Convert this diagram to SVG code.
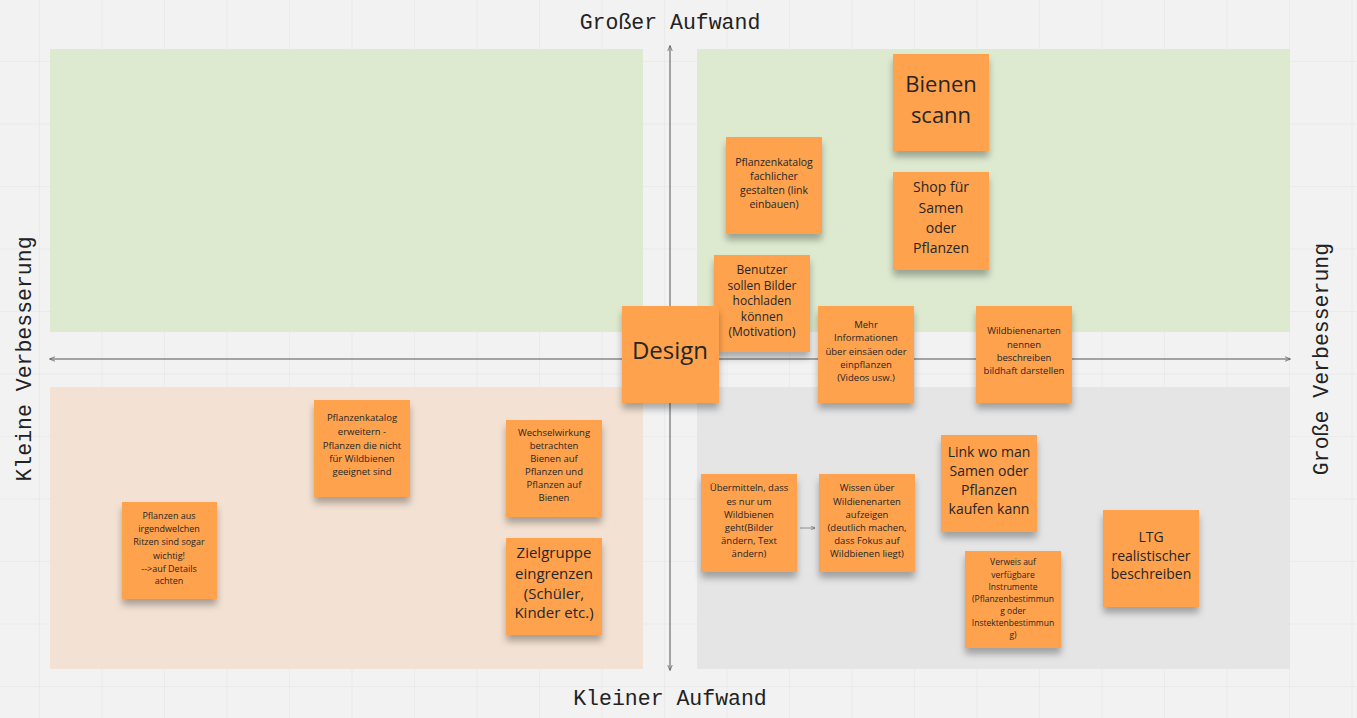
<svg xmlns="http://www.w3.org/2000/svg" width="1357" height="718" viewBox="0 0 1357 718">
<defs>
<pattern id="grid" x="39" y="61" width="62.5" height="62.5" patternUnits="userSpaceOnUse">
<path d="M0 0V62.5M0 0H62.5" fill="none" stroke="#e4e4e4" stroke-width="1.2"/>
</pattern>
<filter id="sh" x="-20%" y="-20%" width="140%" height="150%">
<feDropShadow dx="0" dy="6" stdDeviation="3.5" flood-color="#000" flood-opacity="0.3"/>
</filter>
<marker id="ah" viewBox="0 0 10 10" refX="9" refY="5" markerWidth="6" markerHeight="6" orient="auto-start-reverse">
<path d="M0 1L10 5L0 9" fill="none" stroke="#555" stroke-width="1.2"/>
</marker>
</defs>
<style>
.note{fill:#ffa24e;filter:url(#sh)}
.t{font-family:"Open Sans","Noto Sans",sans-serif;fill:#262626;text-anchor:middle}
.ax{font-family:"Liberation Mono","DejaVu Sans Mono",monospace;font-size:21.5px;fill:#222;text-anchor:middle}
.axis{stroke:#555;stroke-width:1}
</style>
<rect width="1357" height="718" fill="#f2f2f2"/>
<rect width="1357" height="718" fill="url(#grid)"/>
<g id="quadrants">
<rect x="50" y="49" width="593" height="283" fill="#deead0"/>
<rect x="697" y="49" width="593" height="283" fill="#deead0"/>
<rect x="50" y="387" width="593" height="282" fill="#f3e2d3"/>
<rect x="697" y="387" width="593" height="282" fill="#e5e5e5"/>
</g>
<g id="connectors">
<line class="axis" x1="670" y1="670" x2="670" y2="46" marker-start="url(#ah)" marker-end="url(#ah)"/>
<line class="axis" x1="50" y1="359" x2="1290" y2="359" marker-start="url(#ah)" marker-end="url(#ah)"/>
<line x1="800" y1="528" x2="815" y2="528" stroke="#777" stroke-width="0.8" marker-end="url(#ah)"/>
</g>
<g id="axis-labels">
<text class="ax" x="670" y="29">Großer Aufwand</text>
<text class="ax" x="670" y="705">Kleiner Aufwand</text>
<text class="ax" transform="translate(31,359) rotate(-90)">Kleine Verbesserung</text>
<text class="ax" transform="translate(1328,359) rotate(-90)">Große Verbesserung</text>
</g>
<g id="n-bienen"><rect class="note" x="893" y="54" width="96" height="97"/>
<text class="t" font-size="22"><tspan x="941" y="92">Bienen</tspan><tspan x="941" y="123">scann</tspan></text></g>
<g id="n-katalog-fach"><rect class="note" x="726" y="137" width="96" height="97"/>
<text class="t" font-size="10.5"><tspan x="774" y="166">Pflanzenkatalog</tspan><tspan x="774" y="180">fachlicher</tspan><tspan x="774" y="194">gestalten (link</tspan><tspan x="774" y="208">einbauen)</tspan></text></g>
<g id="n-shop"><rect class="note" x="893" y="172" width="96" height="98"/>
<text class="t" font-size="14"><tspan x="941" y="192">Shop für</tspan><tspan x="941" y="213">Samen</tspan><tspan x="941" y="233">oder</tspan><tspan x="941" y="253">Pflanzen</tspan></text></g>
<g id="n-benutzer"><rect class="note" x="714" y="255" width="96" height="97"/>
<text class="t" font-size="12"><tspan x="762" y="274">Benutzer</tspan><tspan x="762" y="290">sollen Bilder</tspan><tspan x="762" y="305">hochladen</tspan><tspan x="762" y="321">können</tspan><tspan x="762" y="336">(Motivation)</tspan></text></g>
<g id="n-design"><rect class="note" x="622" y="306" width="97" height="97"/>
<text class="t" font-size="24"><tspan x="670" y="359">Design</tspan></text></g>
<g id="n-mehr"><rect class="note" x="818" y="306" width="96" height="97"/>
<text class="t" font-size="9.5"><tspan x="866" y="328">Mehr</tspan><tspan x="866" y="341">Informationen</tspan><tspan x="866" y="355">über einsäen oder</tspan><tspan x="866" y="368">einpflanzen</tspan><tspan x="866" y="381">(Videos usw.)</tspan></text></g>
<g id="n-wildbienenarten"><rect class="note" x="976" y="306" width="96" height="97"/>
<text class="t" font-size="9.5"><tspan x="1024" y="334">Wildbienenarten</tspan><tspan x="1024" y="348">nennen</tspan><tspan x="1024" y="361">beschreiben</tspan><tspan x="1024" y="374">bildhaft darstellen</tspan></text></g>
<g id="n-katalog-erw"><rect class="note" x="314" y="400" width="96" height="97"/>
<text class="t" font-size="9.5"><tspan x="362" y="421">Pflanzenkatalog</tspan><tspan x="362" y="435">erweitern -</tspan><tspan x="362" y="449">Pflanzen die nicht</tspan><tspan x="362" y="462">für Wildbienen</tspan><tspan x="362" y="475">geeignet sind</tspan></text></g>
<g id="n-wechsel"><rect class="note" x="506" y="420" width="96" height="97"/>
<text class="t" font-size="9.5"><tspan x="554" y="436">Wechselwirkung</tspan><tspan x="554" y="449">betrachten</tspan><tspan x="554" y="462">Bienen auf</tspan><tspan x="554" y="475">Pflanzen und</tspan><tspan x="554" y="488">Pflanzen auf</tspan><tspan x="554" y="501">Bienen</tspan></text></g>
<g id="n-zielgruppe"><rect class="note" x="506" y="538" width="96" height="97"/>
<text class="t" font-size="15"><tspan x="554" y="558">Zielgruppe</tspan><tspan x="554" y="579">eingrenzen</tspan><tspan x="554" y="599">(Schüler,</tspan><tspan x="554" y="618">Kinder etc.)</tspan></text></g>
<g id="n-ritzen"><rect class="note" x="122" y="502" width="95" height="97"/>
<text class="t" font-size="9"><tspan x="169" y="519">Pflanzen aus</tspan><tspan x="169" y="532">irgendwelchen</tspan><tspan x="169" y="545">Ritzen sind sogar</tspan><tspan x="169" y="559">wichtig!</tspan><tspan x="169" y="572">--&gt;auf Details</tspan><tspan x="169" y="584">achten</tspan></text></g>
<g id="n-uebermitteln"><rect class="note" x="701" y="474" width="96" height="98"/>
<text class="t" font-size="9.5"><tspan x="749" y="491">Übermitteln, dass</tspan><tspan x="749" y="505">es nur um</tspan><tspan x="749" y="518">Wildbienen</tspan><tspan x="749" y="531">geht(Bilder</tspan><tspan x="749" y="544">ändern, Text</tspan><tspan x="749" y="557">ändern)</tspan></text></g>
<g id="n-wissen"><rect class="note" x="819" y="474" width="96" height="98"/>
<text class="t" font-size="9.5"><tspan x="867" y="491">Wissen über</tspan><tspan x="867" y="505">Wildienenarten</tspan><tspan x="867" y="518">aufzeigen</tspan><tspan x="867" y="531">(deutlich machen,</tspan><tspan x="867" y="544">dass Fokus auf</tspan><tspan x="867" y="557">Wildbienen liegt)</tspan></text></g>
<g id="n-link"><rect class="note" x="941" y="435" width="96" height="97"/>
<text class="t" font-size="14"><tspan x="989" y="457">Link wo man</tspan><tspan x="989" y="476">Samen oder</tspan><tspan x="989" y="495">Pflanzen</tspan><tspan x="989" y="514">kaufen kann</tspan></text></g>
<g id="n-ltg"><rect class="note" x="1103" y="510" width="96" height="97"/>
<text class="t" font-size="14"><tspan x="1151" y="542">LTG</tspan><tspan x="1151" y="561">realistischer</tspan><tspan x="1151" y="579">beschreiben</tspan></text></g>
<g id="n-verweis"><rect class="note" x="965" y="551" width="96" height="97"/>
<text class="t" font-size="8.5"><tspan x="1013" y="565">Verweis auf</tspan><tspan x="1013" y="578">verfügbare</tspan><tspan x="1013" y="590">Instrumente</tspan><tspan x="1013" y="602">(Pflanzenbestimmun</tspan><tspan x="1013" y="614">g oder</tspan><tspan x="1013" y="626">Instektenbestimmun</tspan><tspan x="1013" y="638">g)</tspan></text></g>
</svg>
